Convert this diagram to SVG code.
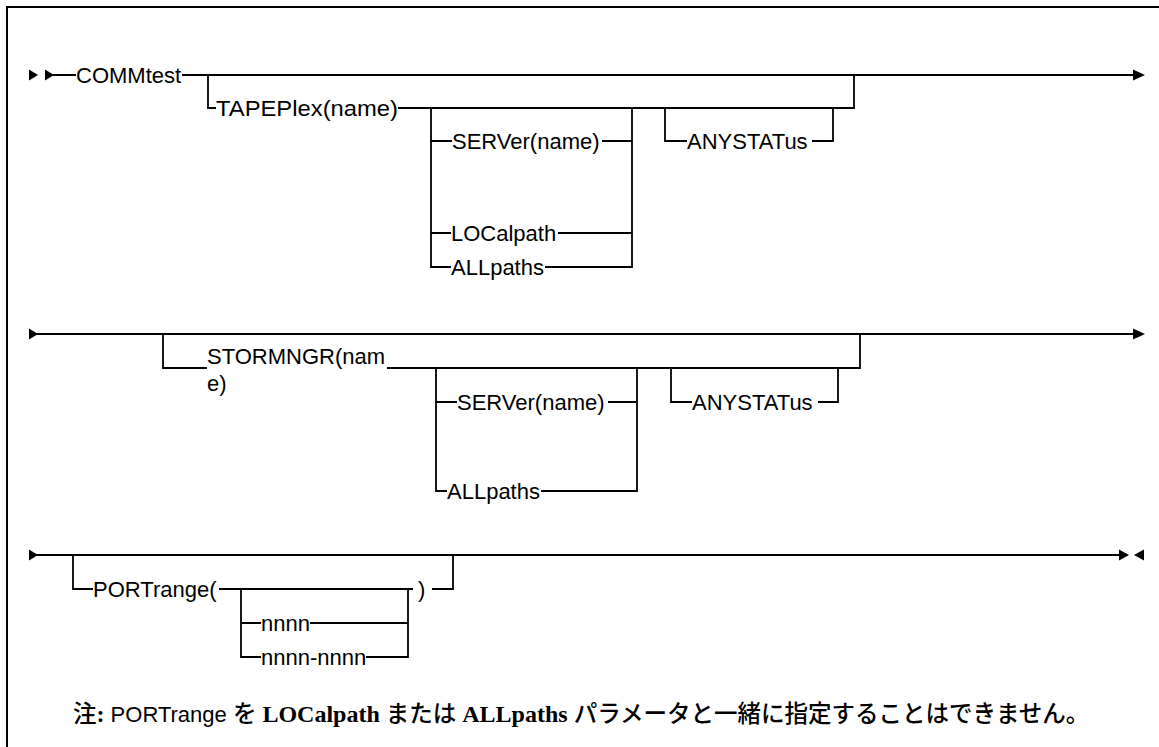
<svg xmlns="http://www.w3.org/2000/svg" width="1159" height="747" viewBox="0 0 1159 747">
<style>
.l{fill:none;stroke:#000;stroke-width:1.8}
.t{font-family:"Liberation Sans",Arial,sans-serif;font-size:22px;fill:#000}
.a{fill:#000;stroke:none}
.n{font-size:22px;fill:#000}
.j{font-family:"Noto Sans CJK JP",sans-serif;font-size:23.5px;font-weight:500}
.s{font-family:"Liberation Sans",Arial,sans-serif;font-size:22px}
.b{font-family:"Liberation Serif","Times New Roman",serif;font-weight:bold;font-size:24px}
</style>
<rect x="0" y="0" width="1159" height="747" fill="#fff"/>
<rect x="7" y="7" width="1170" height="760" fill="none" stroke="#000" stroke-width="2"/>
<g id="connectors">
<polygon class="a" points="29,69.5 38,75 29,80.5"/>
<polygon class="a" points="45,69.5 54,75 45,80.5"/>
<path class="l" d="M53,75 H76 M182,75 H1135"/>
<polygon class="a" points="1133,69.5 1145,75 1133,80.5"/>
<path class="l" d="M208,75 V108 H216 M398,108 H854 V75"/>
<path class="l" d="M431,108 V267 H451 M431,141 H452 M431,233 H451"/>
<path class="l" d="M632,108 V267 H545 M632,141 H602 M632,233 H558"/>
<path class="l" d="M665,108 V141 H687 M833,108 V141 H812"/>
<polygon class="a" points="29,328.5 38,334 29,339.5"/>
<path class="l" d="M30,334 H1135"/>
<polygon class="a" points="1133,328.5 1145,334 1133,339.5"/>
<path class="l" d="M163,334 V368 H207 M387,368 H860 V334"/>
<path class="l" d="M436,368 V491 H447 M436,402 H457"/>
<path class="l" d="M637,368 V491 H541 M637,402 H608"/>
<path class="l" d="M671,368 V402 H692 M838,368 V402 H818"/>
<polygon class="a" points="29,549.5 38,555 29,560.5"/>
<path class="l" d="M30,555 H1121"/>
<polygon class="a" points="1119,549.5 1129,555 1119,560.5"/>
<polygon class="a" points="1144,549.5 1134,555 1144,560.5"/>
<path class="l" d="M73,555 V589 H93 M219,589 H413 M432,589 H453 V555"/>
<path class="l" d="M241,589 V657 H261 M241,623 H261"/>
<path class="l" d="M408,589 V657 H366 M408,623 H310"/>
</g>
<g id="node-commtest"><text class="t" x="76" y="83">COMMtest</text></g>
<g id="node-tapeplex"><text class="t" x="216" y="116" textLength="182" lengthAdjust="spacingAndGlyphs">TAPEPlex(name)</text></g>
<g id="node-server1"><text class="t" x="452" y="149">SERVer(name)</text></g>
<g id="node-localpath"><text class="t" x="451" y="241">LOCalpath</text></g>
<g id="node-allpaths1"><text class="t" x="451" y="275">ALLpaths</text></g>
<g id="node-anystatus1"><text class="t" x="687" y="149">ANYSTATus</text></g>
<g id="node-stormngr"><text class="t" x="207" y="364">STORMNGR(nam</text><text class="t" x="207" y="391">e)</text></g>
<g id="node-server2"><text class="t" x="457" y="410">SERVer(name)</text></g>
<g id="node-allpaths2"><text class="t" x="447" y="499">ALLpaths</text></g>
<g id="node-anystatus2"><text class="t" x="692" y="410">ANYSTATus</text></g>
<g id="node-portrange"><text class="t" x="93" y="597">PORTrange(</text><text class="t" x="418" y="597">)</text></g>
<g id="node-nnnn"><text class="t" x="261" y="631">nnnn</text></g>
<g id="node-nnnn-range"><text class="t" x="261" y="665">nnnn-nnnn</text></g>
<g id="note"><text class="n" x="73" y="722"><tspan class="j">注</tspan><tspan class="b">:</tspan><tspan class="s"> PORTrange </tspan><tspan class="j">を</tspan><tspan class="b"> LOCalpath </tspan><tspan class="j">または</tspan><tspan class="b"> ALLpaths </tspan><tspan class="j">パラメータと一緒に指定することはできません。</tspan></text></g>
</svg>
